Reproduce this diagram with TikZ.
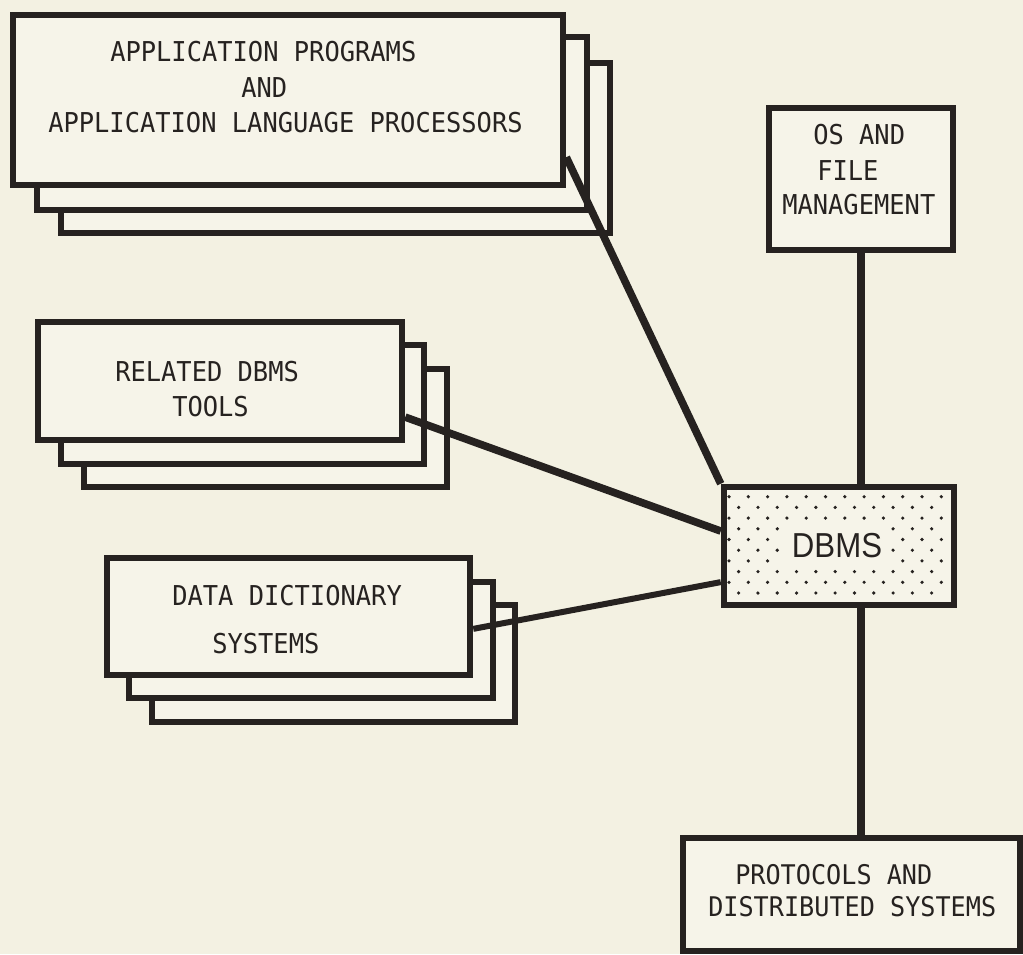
\documentclass[tikz,border=0pt]{standalone}
\usepackage{fontspec}
\newfontfamily\plotfont[FakeStretch=0.93]{DejaVu Sans Mono}
\newfontfamily\dbmsfont[FakeStretch=0.9]{Liberation Sans}
\usetikzlibrary{fit,calc}
\definecolor{bgc}{RGB}{243,241,226}
\definecolor{boxc}{RGB}{246,244,233}
\definecolor{ink}{RGB}{38,34,32}
\begin{document}
\begin{tikzpicture}[x=0.75pt,y=-0.75pt,
  box/.style={draw=ink, fill=boxc, line width=4.9pt, inner sep=0pt},
  lbl/.style={font=\plotfont\fontsize{20.5}{24}\selectfont, text=ink, anchor=base west, inner sep=0pt},
  lblsmall/.style={lbl, font=\plotfont\fontsize{20.3}{22}\selectfont},
  link/.style={draw=ink, line width=5.7pt}]
\fill[bgc] (0,0) rectangle (1023,954);
\useasboundingbox (0,0) rectangle (1023,954);

% application programs stack
\node[box, fit={(61,63) (610,233)}] (app3) {};
\node[box, fit={(37,37) (587,210)}] (app2) {};
\node[box, fit={(13,15) (563,185)}] (app) {};
\node[lbl] (appt1) at (110,61) {APPLICATION PROGRAMS};
\node[lbl] (appt2) at (241,97) {AND};
\node[lbl] (appt3) at (48,132) {APPLICATION LANGUAGE PROCESSORS};

% related DBMS tools stack
\node[box, fit={(84,369) (447,487)}] (rel3) {};
\node[box, fit={(61,345) (424,464)}] (rel2) {};
\node[box, fit={(38,322) (402,440)}] (rel) {};
\node[lbl] (relt1) at (115,381) {RELATED DBMS};
\node[lbl] (relt2) at (172,416) {TOOLS};

% data dictionary stack
\node[box, fit={(152,605) (515,722)}] (dd3) {};
\node[box, fit={(129,582) (493,698)}] (dd2) {};
\node[box, fit={(107,558) (470,675)}] (dd) {};
\node[lbl] (ddt1) at (172,605) {DATA DICTIONARY};
\node[lbl] (ddt2) at (212,653) {SYSTEMS};

% OS box
\node[box, fit={(769,108) (953,250)}] (os) {};
\node[lbl] (ost1) at (813,144) {OS AND};
\node[lbl] (ost2) at (817,180) {FILE};
\node[lbl] (ost3) at (782,214) {MANAGEMENT};

% protocols box
\node[box, fit={(683,838) (1020,951)}] (prot) {};
\node[lblsmall] (prott1) at (735,884) {PROTOCOLS AND};
\node[lblsmall] (prott2) at (708,916) {DISTRIBUTED SYSTEMS};

% DBMS box
\node[box, fit={(724,487) (954,605)}] (dbms) {};
\foreach \i in {0,...,9}{
  \pgfmathtruncatemacro\odd{mod(\i,2)}
  \pgfmathtruncatemacro\kmax{11-\odd}
  \foreach \k in {0,...,\kmax}{
    \fill[ink] ({729+9.65*\odd+19.3*\k},{496.7+10.7*\i}) circle[radius=1.35pt];
  }
}
\node[fill=boxc, text=ink, font=\dbmsfont\fontsize{26}{30}\selectfont,
      minimum width=79pt, minimum height=31pt, inner sep=0pt] (dbmst) at (837,546) {DBMS};

% connectors
\draw[link] ($(app.north east)!0.824!(app.south east)$) -- (dbms.north west);
\draw[link] ($(rel.north east)!0.79!(rel.south east)$) -- ($(dbms.north west)!0.38!(dbms.south west)$);
\draw[link, line width=4.5pt] ($(dd.north east)!0.6!(dd.south east)$) -- ($(dbms.north west)!0.79!(dbms.south west)$);
\draw[link] (os.south) -- (os.south |- dbms.north);
\draw[link] (os.south |- dbms.south) -- (os.south |- prot.north);
\end{tikzpicture}
\end{document}
